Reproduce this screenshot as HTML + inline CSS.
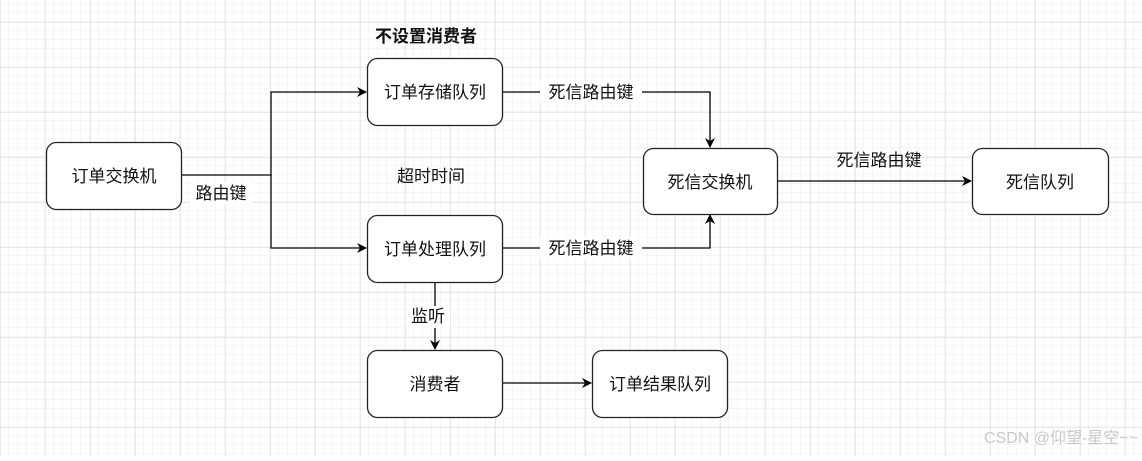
<!DOCTYPE html>
<html><head><meta charset="utf-8"><style>
html,body{margin:0;padding:0;background:#fff}
svg text{font-family:"Liberation Sans","Noto Sans CJK SC",sans-serif;font-size:17px;fill:#111}
</style></head><body>
<svg width="1142" height="456" xmlns="http://www.w3.org/2000/svg">
<defs>
<pattern id="mi" width="9" height="9" patternUnits="userSpaceOnUse" x="0" y="4">
<path d="M9 0V9M0 9H9" fill="none" stroke="#ececec" stroke-width="1"/></pattern>
<pattern id="ma" width="45" height="45" patternUnits="userSpaceOnUse" x="0.5" y="22.5">
<path d="M0 0V45M0 0H45" fill="none" stroke="#d6d6d6" stroke-width="1"/></pattern>
<marker id="ar" markerWidth="10" markerHeight="10" refX="9" refY="5" orient="auto" markerUnits="userSpaceOnUse">
<path d="M0 0L10 5L0 10L3 5Z" fill="#000"/></marker>
</defs>
<rect width="1142" height="456" fill="#fff"/>
<rect width="1142" height="456" fill="url(#mi)"/>
<rect width="1142" height="456" fill="url(#ma)"/>
<g fill="none" stroke="#000" stroke-width="1.3">
<path d="M181 175H271V92H366" marker-end="url(#ar)"/>
<path d="M271 175V248H366" marker-end="url(#ar)"/>
<path d="M502 92H710V147" marker-end="url(#ar)"/>
<path d="M502 248H710V215" marker-end="url(#ar)"/>
<path d="M777 181H971" marker-end="url(#ar)"/>
<path d="M435 282V349" marker-end="url(#ar)"/>
<path d="M502 383H591" marker-end="url(#ar)"/>
</g>
<g fill="#fff" stroke="#222" stroke-width="1.3">
<rect x="46.5" y="142.5" width="135" height="67" rx="10"/>
<rect x="367.5" y="58.5" width="135" height="67" rx="10"/>
<rect x="367.5" y="215.5" width="135" height="67" rx="10"/>
<rect x="367.5" y="350.5" width="135" height="67" rx="10"/>
<rect x="592.5" y="350.5" width="135" height="67" rx="10"/>
<rect x="643.5" y="148.5" width="134" height="66" rx="10"/>
<rect x="972.5" y="148.5" width="136" height="66" rx="10"/>
</g>
<g fill="#fff">
<rect x="190" y="182" width="62" height="22"/>
<rect x="540" y="81" width="102" height="22"/>
<rect x="540" y="237" width="102" height="22"/>
<rect x="406" y="306" width="44" height="22"/>
</g>
<g text-anchor="middle">
<text x="114" y="182">订单交换机</text>
<text x="435" y="98">订单存储队列</text>
<text x="435" y="255">订单处理队列</text>
<text x="435" y="390">消费者</text>
<text x="660" y="390">订单结果队列</text>
<text x="710" y="188">死信交换机</text>
<text x="1040" y="188">死信队列</text>
<text x="221" y="199">路由键</text>
<text x="591" y="98">死信路由键</text>
<text x="591" y="254">死信路由键</text>
<text x="879" y="166">死信路由键</text>
<text x="428" y="322">监听</text>
<text x="431" y="182">超时时间</text>
<text x="426" y="42" style="font-weight:bold">不设置消费者</text>
</g>
<text x="1138" y="443" text-anchor="end" style="font-size:16px;fill:#c8c8c8">CSDN @仰望-星空~~</text>
</svg>
</body></html>
